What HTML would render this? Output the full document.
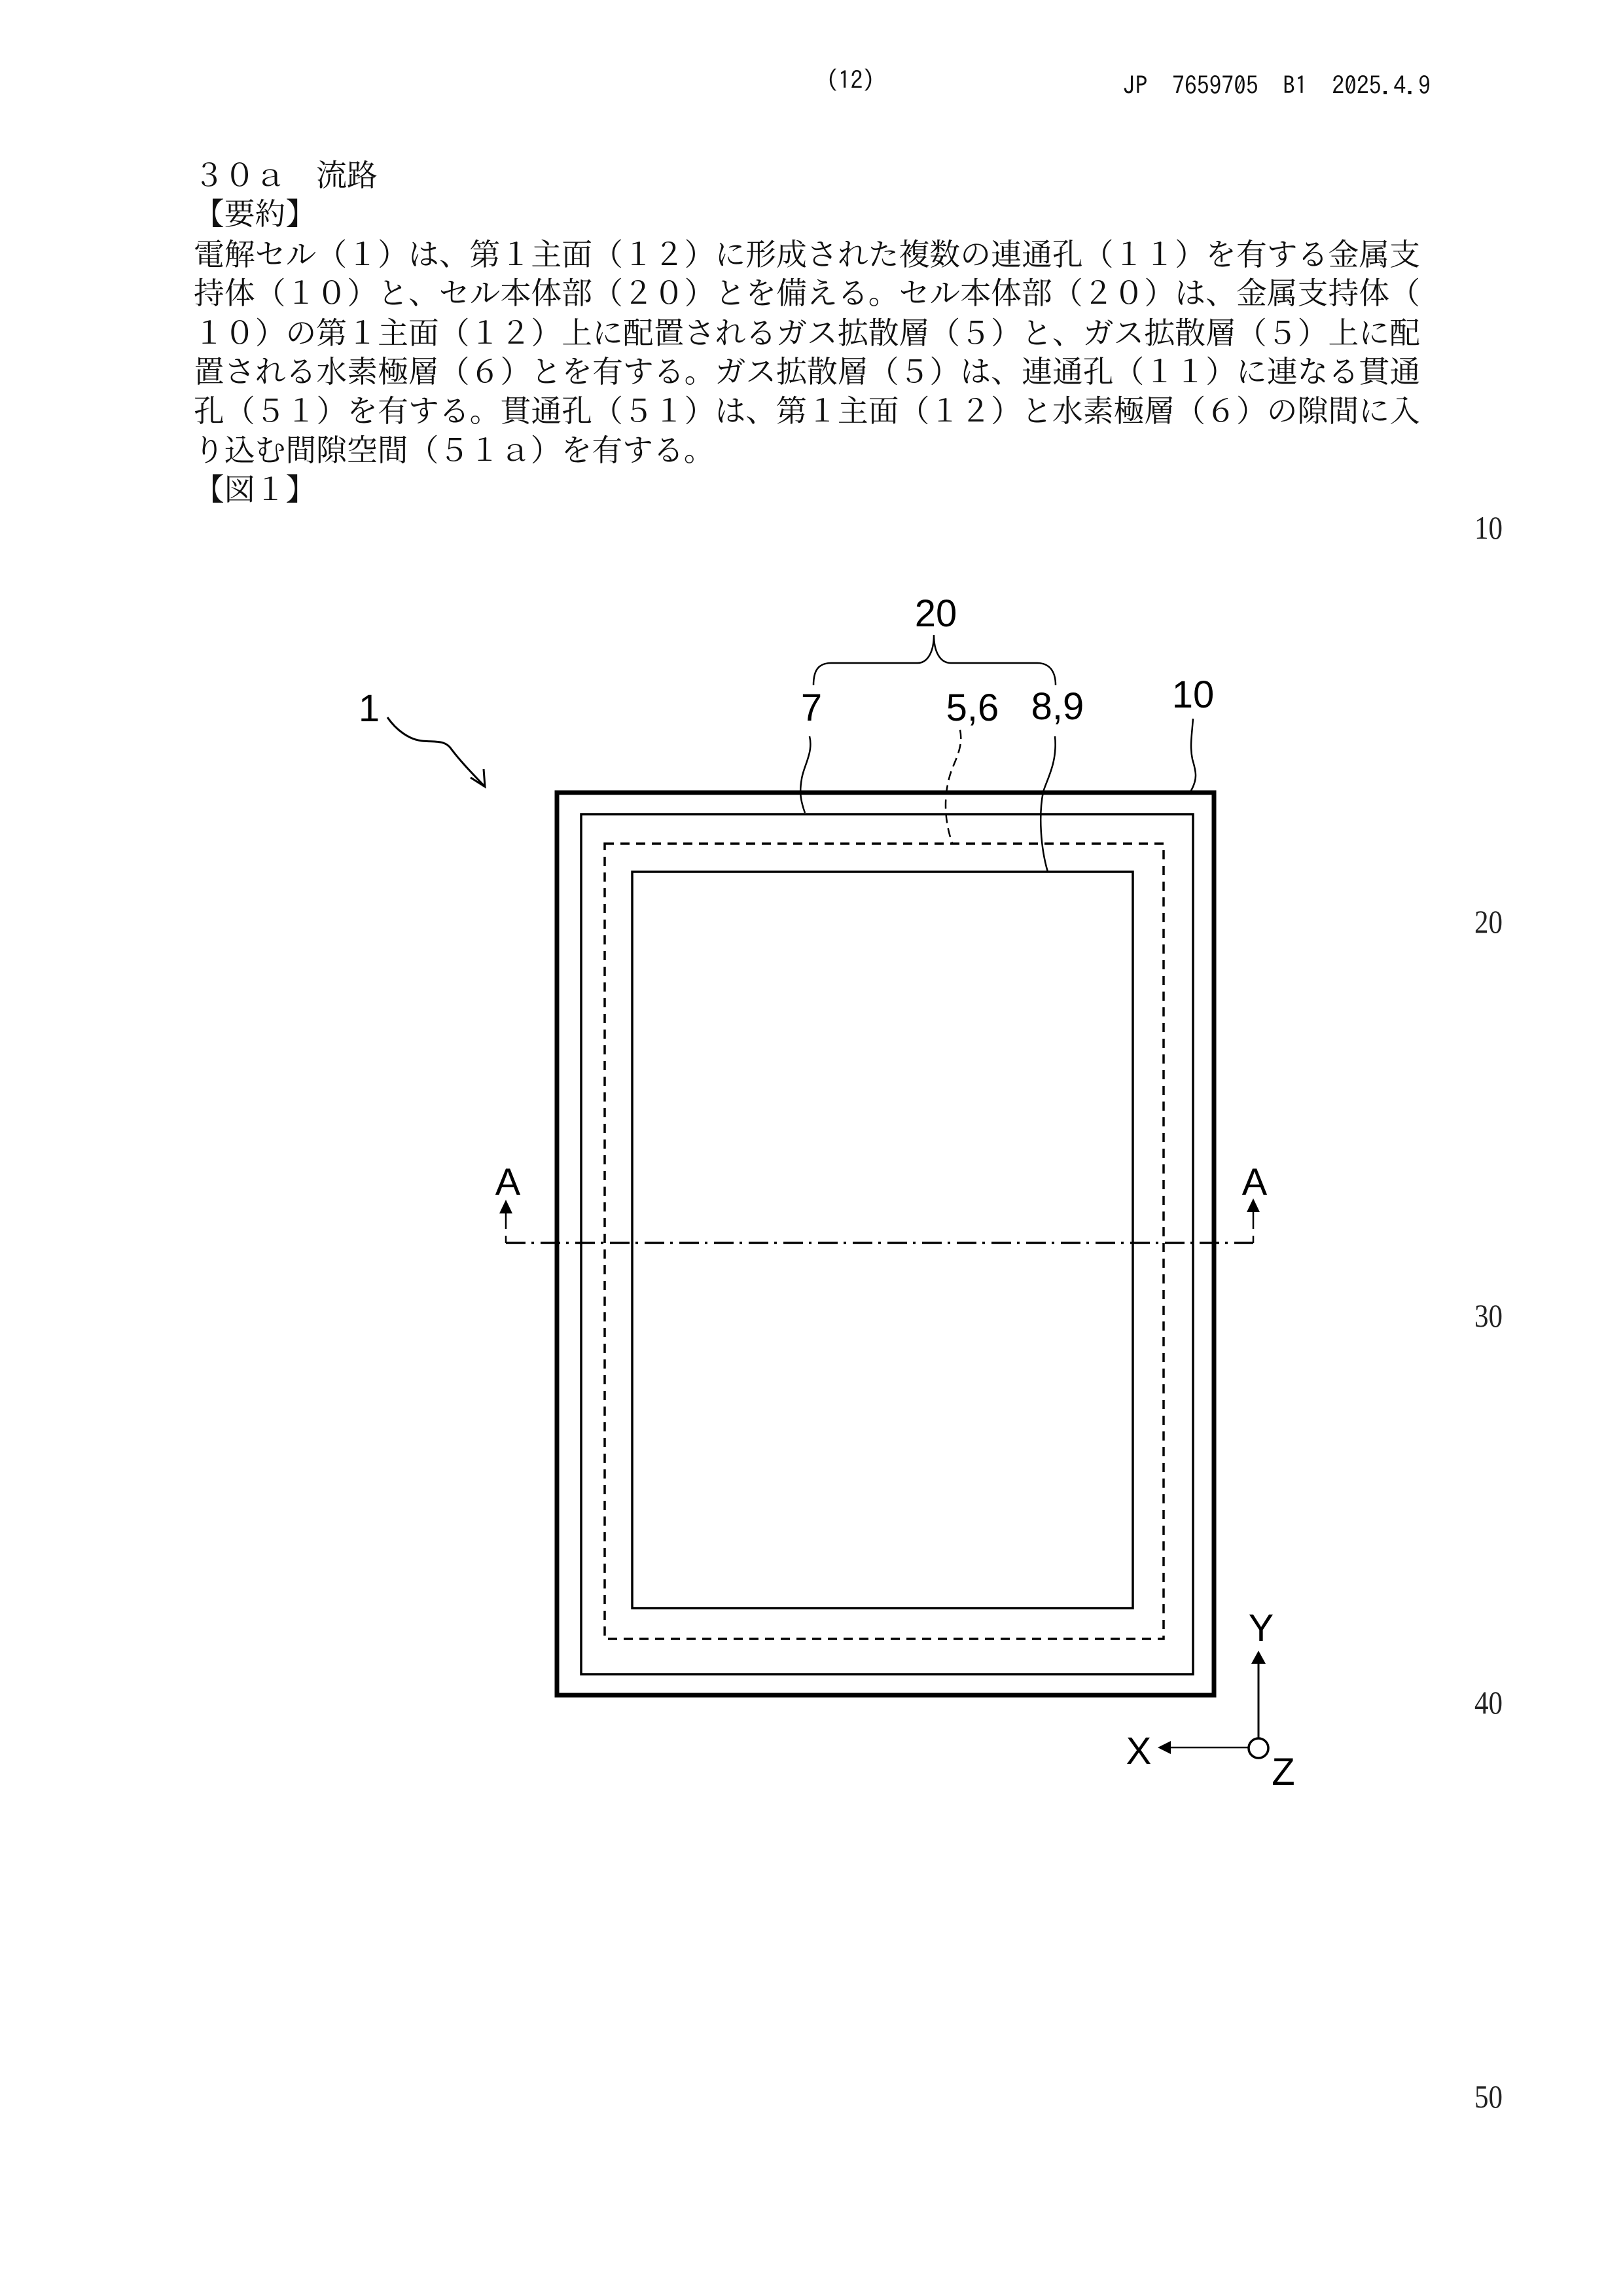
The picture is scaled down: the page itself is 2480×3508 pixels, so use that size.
<!DOCTYPE html>
<html lang="ja">
<head>
<meta charset="utf-8">
<title>JP 7659705 B1</title>
<style>
html,body{margin:0;padding:0;background:#fff;width:2480px;height:3508px;overflow:hidden}
svg{display:block}
.b{font-family:"Noto Serif CJK SC","Liberation Serif",serif;font-size:46.8px;fill:#111}
.h{font-family:"IPAGothic","Liberation Mono",monospace;font-size:37.6px;fill:#111;white-space:pre}
.m{font-family:"Liberation Serif",serif;font-size:50px;fill:#222}
.l{font-family:"Liberation Sans",sans-serif;font-size:58px;fill:#000;text-anchor:middle}
</style>
</head>
<body>
<svg xmlns="http://www.w3.org/2000/svg" width="2480" height="3508" viewBox="0 0 2480 3508">
<rect width="2480" height="3508" fill="#fff"/>

<text class="h" x="1262" y="136">(12)</text>
<text class="h" x="1716" y="144">JP  7659705  B1  2025.4.9</text>

<text class="b" x="296" y="284">３０ａ　流路</text>
<text class="b" x="296" y="343">【要約】</text>
<text class="b" x="296" y="405" textLength="1874">電解セル（１）は、第１主面（１２）に形成された複数の連通孔（１１）を有する金属支</text>
<text class="b" x="296" y="464" textLength="1874">持体（１０）と、セル本体部（２０）とを備える。セル本体部（２０）は、金属支持体（</text>
<text class="b" x="296" y="525" textLength="1874">１０）の第１主面（１２）上に配置されるガス拡散層（５）と、ガス拡散層（５）上に配</text>
<text class="b" x="296" y="584" textLength="1874">置される水素極層（６）とを有する。ガス拡散層（５）は、連通孔（１１）に連なる貫通</text>
<text class="b" x="296" y="644" textLength="1874">孔（５１）を有する。貫通孔（５１）は、第１主面（１２）と水素極層（６）の隙間に入</text>
<text class="b" x="296" y="704">り込む間隙空間（５１ａ）を有する。</text>
<text class="b" x="296" y="764">【図１】</text>

<text class="m" x="2253" y="823" textLength="43" lengthAdjust="spacingAndGlyphs">10</text>
<text class="m" x="2253" y="1425" textLength="43" lengthAdjust="spacingAndGlyphs">20</text>
<text class="m" x="2253" y="2027" textLength="43" lengthAdjust="spacingAndGlyphs">30</text>
<text class="m" x="2253" y="2618" textLength="43" lengthAdjust="spacingAndGlyphs">40</text>
<text class="m" x="2253" y="3220" textLength="43" lengthAdjust="spacingAndGlyphs">50</text>

<g fill="none" stroke="#000">
  <rect x="851" y="1211" width="1004" height="1379" stroke-width="7"/>
  <rect x="888" y="1244" width="935" height="1314" stroke-width="3.5"/>
  <rect x="924" y="1289" width="854" height="1215" stroke-width="3.5" stroke-dasharray="14 10"/>
  <rect x="966" y="1332" width="765" height="1125" stroke-width="3.5"/>

  <path d="M773 1899H1915" stroke-width="3.5" stroke-dasharray="30 9 4 10"/>
  <path d="M773 1899V1888M1915 1899V1888" stroke-width="2.5"/>
  <path d="M773 1878V1850M1915 1878V1850" stroke-width="2.5"/>

  <path d="M1243 1047C1243 1025 1250 1013 1270 1013L1402 1013C1418 1013 1427 995 1427 970C1427 995 1436 1013 1453 1013L1585 1013C1603 1013 1613 1025 1613 1047" stroke-width="2.5"/>

  <path d="M1237 1125C1243 1150 1228 1170 1225 1190C1221 1212 1224 1225 1230 1242" stroke-width="2.5"/>
  <path d="M1467 1115C1473 1145 1456 1165 1450 1190C1441 1225 1445 1260 1455 1288" stroke-width="2.5" stroke-dasharray="14 8"/>
  <path d="M1612 1125C1616 1165 1600 1190 1594 1210C1587 1245 1590 1295 1601 1332" stroke-width="2.5"/>
  <path d="M1823 1098C1821 1125 1818 1140 1822 1160C1828 1180 1830 1190 1820 1208" stroke-width="2.5"/>

  <path d="M592 1096C605 1115 625 1130 645 1132C665 1134 680 1130 690 1145C705 1165 725 1185 741 1202" stroke-width="3"/>
  <path d="M719 1188L741 1202L739 1175" stroke-width="3"/>

  <path d="M1923 2540V2657" stroke-width="3"/>
  <path d="M1787 2670H1908" stroke-width="2.5"/>
  <circle cx="1923" cy="2671" r="15" stroke-width="3.5" fill="#fff"/>
</g>
<g fill="#000">
  <path d="M773 1833L783 1854H763Z"/>
  <path d="M1915 1831L1925 1852H1905Z"/>
  <path d="M1923 2522L1934 2542H1912Z"/>
  <path d="M1769 2670L1789 2660V2680Z"/>
</g>

<text class="l" x="1430" y="957">20</text>
<text class="l" x="1240" y="1101">7</text>
<text class="l" x="1486" y="1101">5,6</text>
<text class="l" x="1616" y="1099">8,9</text>
<text class="l" x="1823" y="1081">10</text>
<text class="l" x="564" y="1102">1</text>
<text class="l" x="776" y="1826">A</text>
<text class="l" x="1917" y="1826">A</text>
<text class="l" x="1927" y="2507">Y</text>
<text class="l" x="1740" y="2695">X</text>
<text class="l" x="1961" y="2727">Z</text>
</svg>
</body>
</html>
